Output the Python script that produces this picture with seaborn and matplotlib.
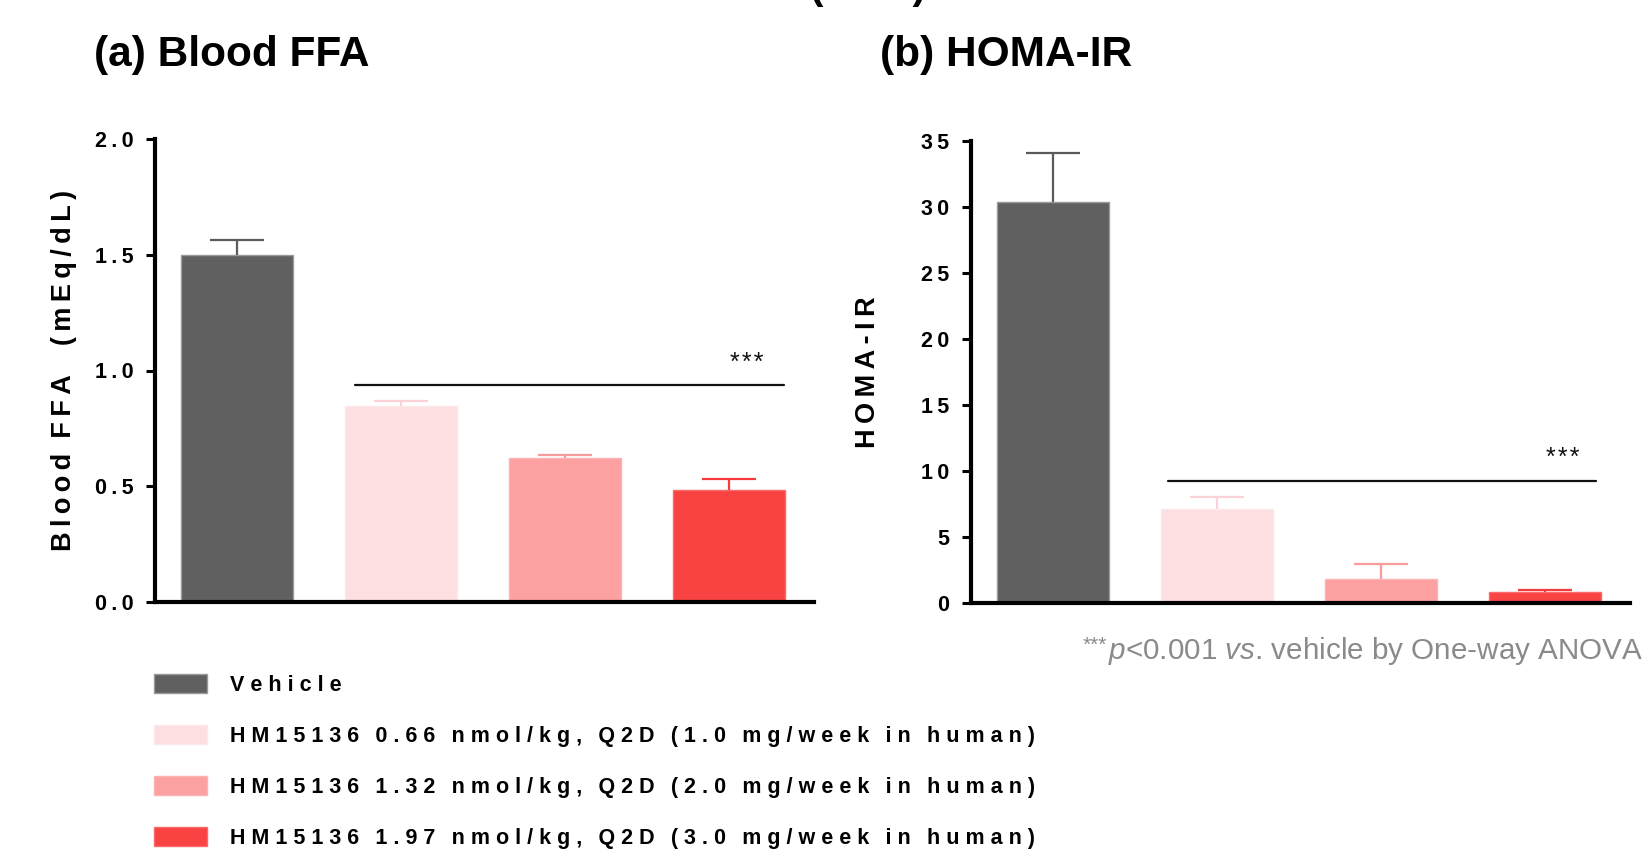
import numpy as np
import pandas as pd
import matplotlib
matplotlib.use("Agg")
import matplotlib.pyplot as plt
from matplotlib.patches import Patch
import seaborn as sns

# ---------------- data ----------------
groups = [
    "Vehicle",
    "HM15136 0.66 nmol/kg, Q2D (1.0 mg/week in human)",
    "HM15136 1.32 nmol/kg, Q2D (2.0 mg/week in human)",
    "HM15136 1.97 nmol/kg, Q2D (3.0 mg/week in human)",
]
ffa_mean = [1.50, 0.845, 0.62, 0.485]
ffa_err = [0.062, 0.023, 0.014, 0.045]
homa_mean = [30.4, 7.1, 1.85, 0.85]
homa_err = [3.7, 0.9, 1.1, 0.15]

ffa_ticks = [0.0, 0.5, 1.0, 1.5, 2.0]
homa_ticks = [0, 5, 10, 15, 20, 25, 30, 35]

bar_colors = ["#606060", "#fddfe1", "#fca0a1", "#f94242"]
err_colors = ["#5a5a5a", "#fbd3d6", "#f99a9b", "#f53b3b"]
edge_colors = ["#9a9a9a", "#fde8ea", "#fdb3b4", "#fb6a6a"]

# significance annotations (x from, x to, y) and star positions
ffa_sig = [0.72, 3.34, 0.936]
ffa_star = [3.11, 1.0]
homa_sig = [0.70, 3.31, 9.24]
homa_star = [3.11, 10.45]

titles = ["(a) Blood FFA", "(b) HOMA-IR"]
ylabels = ["Blood FFA  (mEq/dL)", "HOMA-IR"]
footnote_stars = "***"
footnote = r"$\mathit{p}$<0.001 $\mathit{vs}$. vehicle by One-way ANOVA"

# ---------------- style ----------------
sns.set_style("ticks")
FAM = ["Liberation Sans", "DejaVu Sans"]
plt.rcParams["font.family"] = FAM
plt.rcParams["text.color"] = "black"
plt.rcParams["axes.labelcolor"] = "black"
plt.rcParams["ytick.color"] = "black"
plt.rcParams["xtick.color"] = "black"
plt.rcParams["mathtext.fontset"] = "custom"
plt.rcParams["mathtext.rm"] = "Liberation Sans"
plt.rcParams["mathtext.it"] = "Liberation Sans:italic"
plt.rcParams["mathtext.bf"] = "Liberation Sans:bold"


def spaced(s, gap="\u2009", word="\u2009 \u2009"):
    return word.join(gap.join(w) for w in s.split(" "))


W, H = 1642, 850
fig = plt.figure(figsize=(W / 100, H / 100), dpi=100)

ax_boxes = [
    (155 / W, 1 - 602 / H, (814 - 155) / W, (602 - 139) / H),
    (971 / W, 1 - 603 / H, (1630 - 971) / W, (603 - 141) / H),
]

panels = [
    (ffa_mean, ffa_err, ffa_ticks, ffa_sig, ffa_star, "{:.1f}"),
    (homa_mean, homa_err, homa_ticks, homa_sig, homa_star, "{:d}"),
]

for k, (box, (means, errs, ticks, sig, star, fmt)) in enumerate(zip(ax_boxes, panels)):
    ax = fig.add_axes(box)
    df = pd.DataFrame({"group": groups, "value": means})
    sns.barplot(data=df, x="group", y="value", hue="group", order=groups,
                hue_order=groups, palette=bar_colors, saturation=1,
                width=0.685, errorbar=None, legend=False, ax=ax, zorder=2)
    for p, ec in zip(ax.patches, edge_colors):
        p.set_edgecolor(ec)
        p.set_linewidth(1.0)
    for i, (m, e, c) in enumerate(zip(means, errs, err_colors)):
        _, caps, _ = ax.errorbar(i, m, yerr=[[0], [e]], fmt="none", ecolor=c,
                                 elinewidth=1.6, capsize=19.5, capthick=1.6, zorder=3)
        for cl in caps:
            if np.isclose(cl.get_ydata()[0], m):
                cl.remove()
    ax.plot(sig[:2], [sig[2], sig[2]], color="#111111", lw=1.6, zorder=4)
    ax.text(star[0], star[1], "*\u200a*\u200a*", ha="center", va="baseline",
            fontsize=18, color="#111111", family=FAM)

    ax.set_xlim(-0.5, 3.52)
    ax.set_ylim(ticks[0], ticks[-1])
    ax.set_yticks(ticks)
    ax.set_yticklabels([spaced(fmt.format(t)) for t in ticks],
                       fontsize=15.5, fontweight="bold")
    ax.set_xticks([])
    ax.set_xlabel("")
    ax.set_ylabel(spaced(ylabels[k], gap="\u2009", word="  "),
                  fontsize=19.5, fontweight="bold")
    ax.yaxis.label.set_verticalalignment("center")
    ax.yaxis.set_label_coords(-0.138 if k == 0 else -0.156, 0.5)
    ax.tick_params(axis="y", length=6.5, width=2.2, pad=9, color="black")
    for s in ["top", "right"]:
        ax.spines[s].set_visible(False)
    for s in ["left", "bottom"]:
        ax.spines[s].set_linewidth(3.0)
        ax.spines[s].set_color("black")
    ax.set_facecolor("white")

# panel titles
fig.text(94 / W, 1 - 66 / H, titles[0], fontsize=30.5, fontweight="bold", ha="left", va="baseline")
fig.text(880 / W, 1 - 66 / H, titles[1], fontsize=30.5, fontweight="bold", ha="left", va="baseline")
# cut-off main title at the top edge
fig.text(868 / W, 1 + 1 / H, "(        )", fontsize=29, fontweight="bold", ha="center", va="baseline")

# footnote (stars drawn as a raised prefix just left of the text)
fn = fig.text(1643 / W, 1 - 659 / H, footnote, fontsize=21.3, color="#8a8a8a",
              ha="right", va="baseline")
renderer = fig.canvas.get_renderer()
bb = fn.get_window_extent(renderer)
fig.text((bb.x0 - 1) / W, 1 - 651 / H, footnote_stars, fontsize=15, color="#8a8a8a",
         ha="right", va="baseline")

# legend
handles = [Patch(facecolor=c, edgecolor=e, linewidth=1) for c, e in zip(bar_colors, edge_colors)]
fig.legend(handles, [spaced(g, gap=" ", word="  \u2009") for g in groups], loc="upper left",
           bbox_to_anchor=(154 / W, 1 - 674 / H), bbox_transform=fig.transFigure,
           frameon=False, borderpad=0, borderaxespad=0, handlelength=2.47,
           handleheight=0.977, handletextpad=1.07, labelspacing=1.353,
           prop={"family": FAM, "weight": "bold", "size": 15.5})

fig.savefig("out.png", dpi=100, facecolor="white")
